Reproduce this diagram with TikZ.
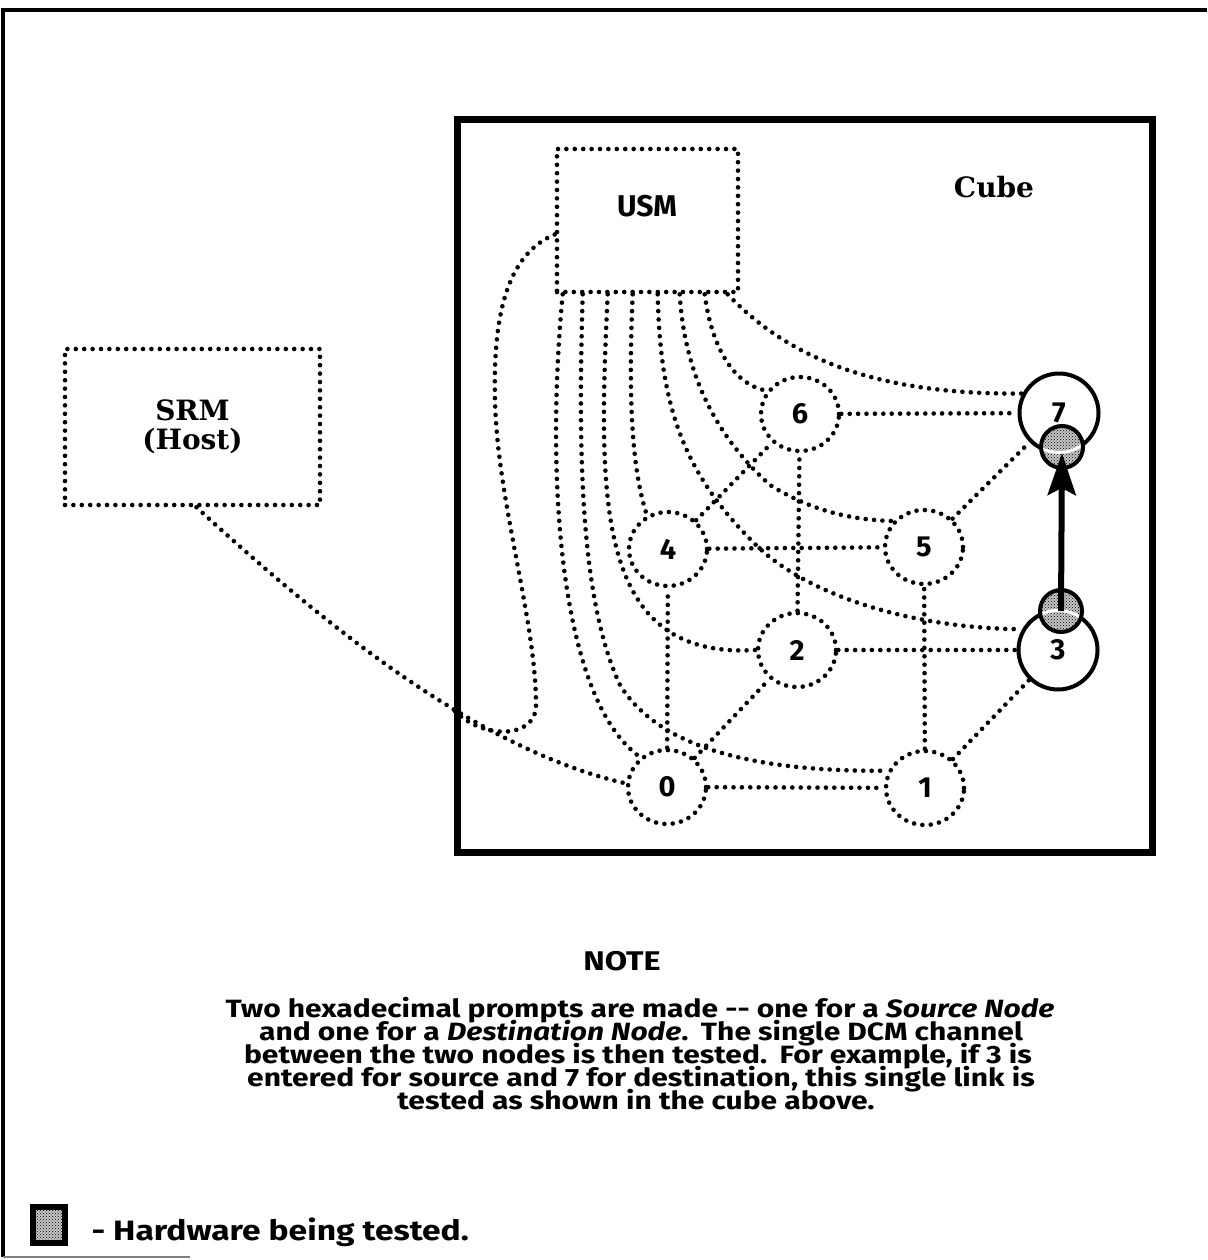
\documentclass[tikz,border=0pt]{standalone}
\usepackage{fontspec}
\setmainfont{Fira Sans}
\newfontfamily\notefont[FakeStretch=1.2]{Fira Sans}
\newfontfamily\srf{DejaVu Serif}
\usetikzlibrary{arrows.meta,patterns,shapes.geometric}
\begin{document}
\begin{tikzpicture}[x=1pt,y=-1pt,
  dotl/.style={line width=4.6pt, line cap=round, dash pattern=on 0pt off 8.4pt},
  cubenode/.style={ellipse, draw, dotl, minimum width=78pt, minimum height=74pt, inner sep=0pt,
    font=\fontsize{29}{29}\selectfont\bfseries},
  solnode/.style={circle, draw, line width=4pt, minimum size=79pt, inner sep=0pt,
    font=\fontsize{29}{29}\selectfont\bfseries},
  notetxt/.style={anchor=base, text height=17pt, text depth=4pt, inner sep=0pt,
    font=\notefont\fontsize{25}{23}\selectfont\bfseries},
  serifhead/.style={font=\srf\bfseries\fontsize{28}{29}\selectfont},
  hwfill/.style={pattern=crosshatch dots, pattern color=black},
]
\useasboundingbox (0,0) rectangle (1207,1260);

% outer frame
\draw[line width=3.5pt] (1207,10) -- (3,10) -- (3,1257);
\draw[gray, line width=1.5pt] (3,1257) -- (190,1257);

% cube frame
\draw[line width=7pt] (457,120) rectangle (1152,852);
\node[serifhead, anchor=base] (cubelabel) at (994,197) {Cube};

% boxes
\node[draw, dotl, minimum width=181pt, minimum height=143pt, inner sep=0pt] (usm) at (647.5,220.5) {};
\node[anchor=base, font=\fontsize{30}{30}\selectfont\bfseries] (usmlabel) at (647,216) {USM};
\node[draw, dotl, minimum width=255pt, minimum height=156pt, inner sep=0pt, align=center, serifhead] (srm) at (192.5,427) {SRM\\(Host)};

% cube nodes
\node[cubenode] (n0) at (667,787) {0};
\node[cubenode] (n1) at (925,788) {1};
\node[cubenode] (n2) at (797,650) {2};
\node[solnode]  (n3) at (1058,650) {3};
\node[cubenode] (n4) at (668,549) {4};
\node[cubenode] (n5) at (924,547) {5};
\node[cubenode] (n6) at (800,414) {6};
\node[solnode]  (n7) at (1059,413) {7};

% cube edges
\draw[dotl] (n0) -- (n1);
\draw[dotl] (n0) -- (n2);
\draw[dotl] (n0) -- (n4);
\draw[dotl] (n1) -- (n3);
\draw[dotl] (n1) -- (n5);
\draw[dotl] (n2) -- (n3);
\draw[dotl] (n2) -- (n6);
\draw[dotl] (n4) -- (n5);
\draw[dotl] (n4) -- (n6);
\draw[dotl] (n5) -- (n7);
\draw[dotl] (n6) -- (n7);

% USM fan
\coordinate (u0) at ([xshift=8pt]usm.south west);
\coordinate (u1) at ([xshift=28pt]usm.south west);
\coordinate (u2) at ([xshift=53pt]usm.south west);
\coordinate (u3) at ([xshift=78pt]usm.south west);
\coordinate (u4) at ([xshift=103pt]usm.south west);
\coordinate (u5) at ([xshift=125pt]usm.south west);
\coordinate (u6) at ([xshift=150pt]usm.south west);
\coordinate (u7) at ([xshift=173pt]usm.south west);
\draw[dotl] (u0) .. controls (545,480) and (560,700) .. (n0.132);
\draw[dotl] (u1) .. controls (578,450) and (580,600) .. (620,685) .. controls (660,750) and (760,772) .. (n1.155);
\draw[dotl] (u2) .. controls (598,500) and (595,660) .. (n2.180);
\draw[dotl] (u3) .. controls (628,400) and (632,470) .. (n4.122);
\draw[dotl] (u4) .. controls (660,400) and (680,470) .. (754,543) .. controls (800,590) and (900,628) .. (n3.150);
\draw[dotl] (u5) .. controls (685,380) and (720,440) .. (770,485) .. controls (810,510) and (850,520) .. (n5.140);
\draw[dotl] (u6) .. controls (712,350) and (735,385) .. (n6.145);
\draw[dotl] (u7) .. controls (790,360) and (880,395) .. (n7.152);

% SRM connection and USM loop
\coordinate (srmS) at ([xshift=4pt]srm.south);
\coordinate (j) at (452,708);
\coordinate (uL) at ([yshift=-14pt]usm.west);
\draw[dotl] (srmS) .. controls (330,630) and (480,750) .. (n0.175);
\draw[dotl] (uL) .. controls (505,255) and (493,320) .. (495,400)
  .. controls (497,500) and (536,620) .. (536,705)
  .. controls (536,740) and (480,740) .. (j);

% hardware being tested
\coordinate (h7) at (1062,447);
\coordinate (h3) at (1061,611);
\foreach \h/\n in {h7/n7, h3/n3}{
  \fill[gray!45] (\h) circle[radius=21];
  \fill[hwfill] (\h) circle[radius=21];
  \begin{scope}
    \clip (\h) circle[radius=21];
    \draw[white, line width=3pt] (\n.center) circle[radius=39.5];
  \end{scope}
  \draw[line width=4pt] (\h) circle[radius=21];
}
\draw[line width=6pt, -{Stealth[length=42pt,width=28pt,inset=7pt]}, shorten >=6pt] (h3) -- (h7);

% note
\node[anchor=base, font=\notefont\fontsize{27}{27}\selectfont\bfseries] (notehead) at (622,970) {NOTE};
\node[notetxt] (l1) at (640,1017) {Two hexadecimal prompts are made -{}- one for a \textit{Source Node}};
\node[notetxt] (l2) at (641,1040) {and one for a \textit{Destination Node}.\enspace The single DCM channel};
\node[notetxt] (l3) at (638,1063) {between the two nodes is then tested.\enspace For example, if 3 is};
\node[notetxt] (l4) at (641,1086) {entered for source and 7 for destination, this single link is};
\node[notetxt] (l5) at (636,1109) {tested as shown in the cube above.};

% legend
\node[draw, line width=6pt, minimum width=32pt, minimum height=36pt, inner sep=0pt, fill=gray!45] (legbox) at (49,1225) {};
\fill[hwfill] ([shift={(-13pt,-15pt)}]legbox.center) rectangle ([shift={(13pt,15pt)}]legbox.center);
\node[anchor=base west, font=\notefont\fontsize{28}{28}\selectfont\bfseries] (legtext) at (88,1240) {- Hardware being tested.};
\end{tikzpicture}
\end{document}
